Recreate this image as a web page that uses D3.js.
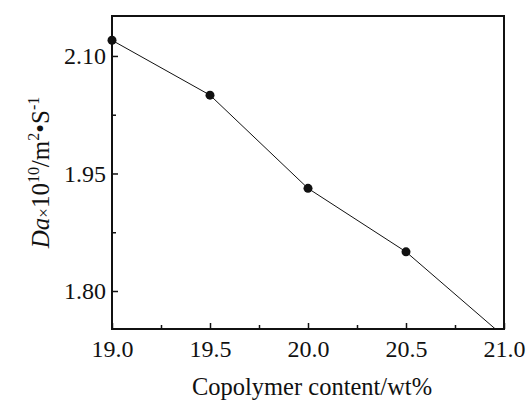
<!DOCTYPE html>
<html>
<head>
<meta charset="utf-8">
<script src="https://cdn.jsdelivr.net/npm/d3@7"></script>
<style>
  body { margin: 0; background: #fff; }
  text { font-family: "Liberation Serif", "DejaVu Serif", serif; fill: #111; }
</style>
</head>
<body>
<div id="container"></div>
<script>
/* DATA */
const contents = [19.0, 19.5, 20.0, 20.5, 21.0]
const daValues = [2.12, 2.05, 1.931, 1.85, 1.742]
const xTicks = [19.0, 19.5, 20.0, 20.5, 21.0]
const yTicks = [1.80, 1.95, 2.10]

/* CONSTANTS */
const width = 527,
  height = 403,
  margin = { top: 16, bottom: 74, left: 112, right: 23 };

const svg = d3.select("#container")
  .append("svg")
  .attr("width", width)
  .attr("height", height);

const x = d3.scaleLinear()
  .domain([19.0, 21.0])
  .range([margin.left, width - margin.right])

const y = d3.scaleLinear()
  .domain([1.7515, 2.151])
  .range([height - margin.bottom, margin.top])

const plot = svg.append("g")

// clip so the last point falls off below the frame like the original
svg.append("clipPath").attr("id", "clip")
  .append("rect")
  .attr("x", x.range()[0])
  .attr("y", y.range()[1])
  .attr("width", x.range()[1] - x.range()[0])
  .attr("height", y.range()[0] - y.range()[1])

const data = contents.map((c, i) => ({ c, v: daValues[i] }))

const line = d3.line()
  .x(d => x(d.c))
  .y(d => y(d.v))

plot.append("path")
  .datum(data)
  .attr("clip-path", "url(#clip)")
  .attr("fill", "none")
  .attr("stroke", "#111")
  .attr("stroke-width", 1)
  .attr("d", line)

plot.selectAll("circle.pt")
  .data(data.filter(d => d.v >= y.domain()[0]))
  .join("circle")
  .attr("class", "pt")
  .attr("cx", d => x(d.c))
  .attr("cy", d => y(d.v))
  .attr("r", 4.5)
  .attr("fill", "#111")

// axes: ticks point inward
const xAxis = d3.axisBottom(x)
  .tickValues(xTicks)
  .tickFormat(d3.format(".1f"))
  .tickSizeInner(-6)
  .tickSizeOuter(0)
  .tickPadding(11)

const xMinor = d3.axisBottom(x)
  .tickValues([19.25, 19.75, 20.25, 20.75])
  .tickFormat("")
  .tickSizeInner(-4)
  .tickSizeOuter(0)

const yAxis = d3.axisLeft(y)
  .tickValues(yTicks)
  .tickFormat(d3.format(".2f"))
  .tickSizeInner(-6)
  .tickSizeOuter(0)
  .tickPadding(6)

const yMinor = d3.axisLeft(y)
  .tickValues([1.875, 2.025])
  .tickFormat("")
  .tickSizeInner(-4)
  .tickSizeOuter(0)

const gx = svg.append("g")
  .attr("transform", `translate(0, ${y.range()[0]})`)
  .call(xAxis)
gx.append("g").call(xMinor)

const gy = svg.append("g")
  .attr("transform", `translate(${x.range()[0]}, 0)`)
  .call(yAxis)
gy.append("g").call(yMinor)

svg.selectAll(".domain").remove()
svg.selectAll(".tick line").attr("stroke", "#111").attr("stroke-width", 1.5)
svg.selectAll(".tick text")
  .style("font-family", "'Liberation Serif', serif")
  .style("font-size", "24px")
  .attr("fill", "#111")

// frame
svg.append("rect")
  .attr("x", x.range()[0])
  .attr("y", y.range()[1])
  .attr("width", x.range()[1] - x.range()[0])
  .attr("height", y.range()[0] - y.range()[1])
  .attr("fill", "none")
  .attr("stroke", "#111")
  .attr("stroke-width", 2)

// x title
svg.append("text")
  .attr("x", (x.range()[0] + x.range()[1]) / 2 + 4)
  .attr("y", 395)
  .attr("text-anchor", "middle")
  .style("font-size", "24.5px")
  .text("Copolymer content/wt%")

// y title
const yt = svg.append("text")
  .attr("transform", `translate(49, ${(y.range()[0] + y.range()[1]) / 2}) rotate(-90)`)
  .attr("text-anchor", "middle")
  .style("font-size", "25px")

yt.append("tspan").style("font-style", "italic").text("Da")
yt.append("tspan").style("font-size", "17px").text("\u00d7")
yt.append("tspan").text("10")
yt.append("tspan").attr("dy", -10).style("font-size", "16px").text("10")
yt.append("tspan").attr("dy", 10).text("/m")
yt.append("tspan").attr("dy", -10).style("font-size", "16px").text("2")
yt.append("tspan").attr("dy", 10).text("\u2022S")
yt.append("tspan").attr("dy", -10).style("font-size", "16px").text("-1")
</script>
</body>
</html>
